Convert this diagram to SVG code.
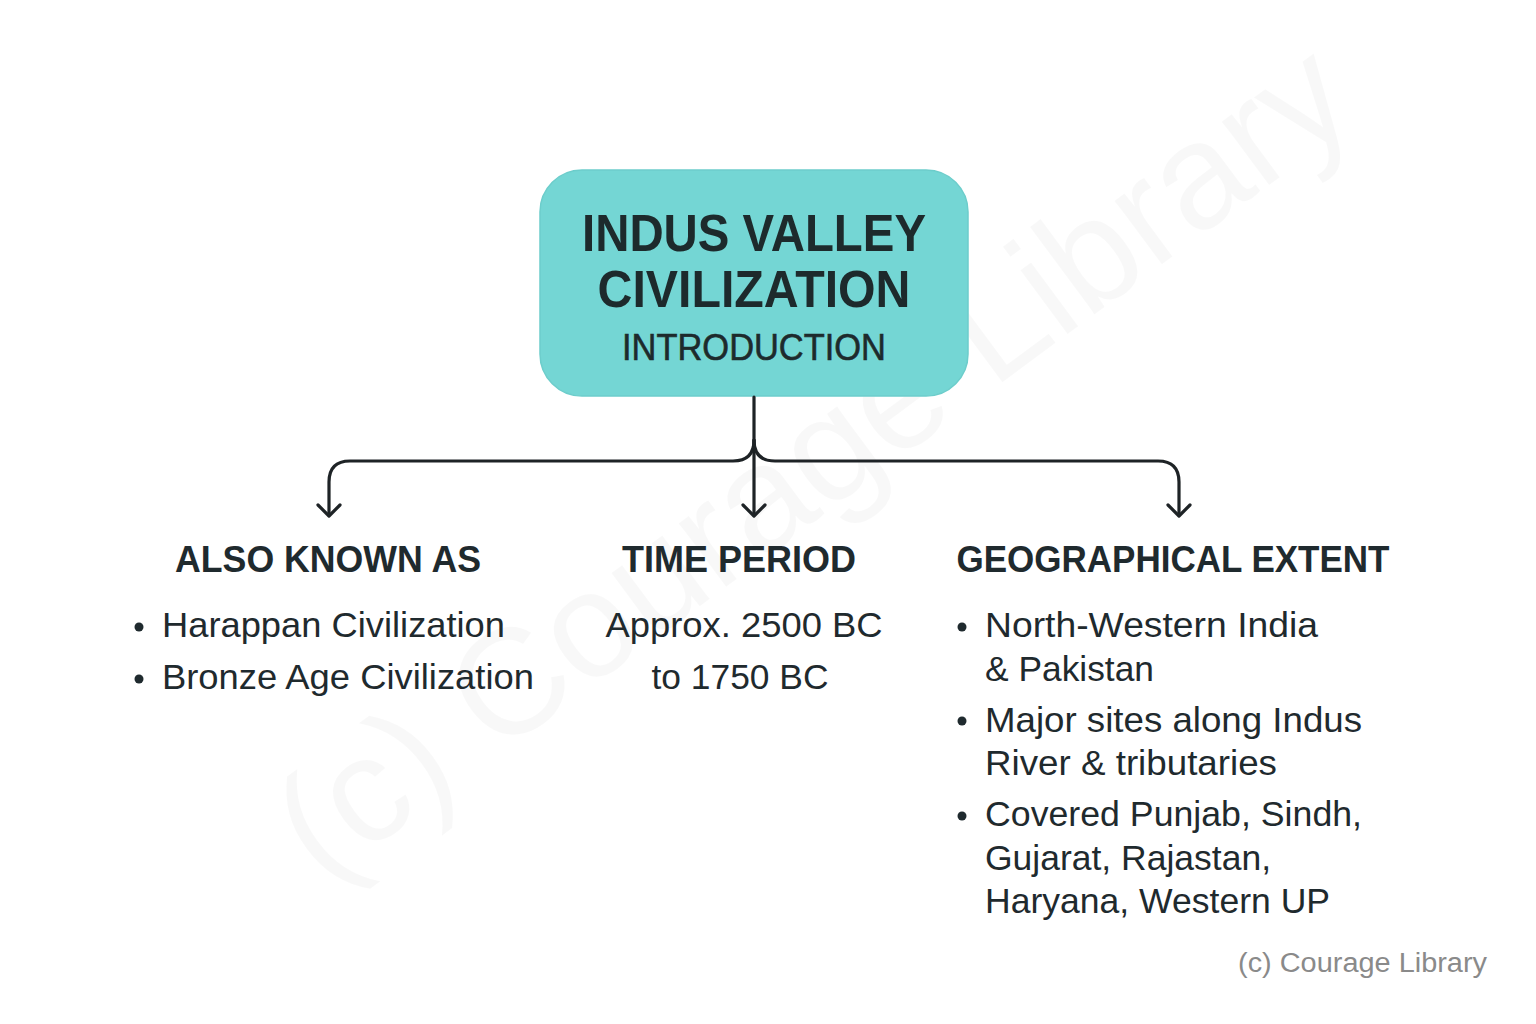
<svg xmlns="http://www.w3.org/2000/svg" width="1536" height="1024" viewBox="0 0 1536 1024">
<style>
.wm{font-family:"Liberation Sans",Arial,sans-serif;font-size:150px;fill:#000;fill-opacity:0.028}
.t1{font-family:"Liberation Sans",Arial,sans-serif;font-weight:bold;font-size:52px;fill:#1d2a2c}
.t2{font-family:"Liberation Sans",Arial,sans-serif;font-size:37px;fill:#1d2a2c;stroke:#1d2a2c;stroke-width:0.6}
.h{font-family:"Liberation Sans",Arial,sans-serif;font-weight:bold;font-size:37px;fill:#1f2a2e}
.b{font-family:"Liberation Sans",Arial,sans-serif;font-size:35px;fill:#1f2a2e}
.ft{font-family:"Liberation Sans",Arial,sans-serif;font-size:27px;fill:#8a8a8a}
.c{fill:none;stroke:#1e2326;stroke-width:3.2;stroke-linecap:round;stroke-linejoin:round}
</style>
<rect width="1536" height="1024" fill="#ffffff"/>
<text class="wm" x="815" y="510" text-anchor="middle" transform="rotate(-36.5 815 465)">(c) Courage Library</text>
<g id="root">
<rect x="540" y="170" width="428" height="226" rx="42" fill="#74d6d4" stroke="#6ccdcb" stroke-width="1.5"/>
<text class="t1" x="754" y="251" text-anchor="middle" textLength="344" lengthAdjust="spacingAndGlyphs">INDUS VALLEY</text>
<text class="t1" x="754" y="307" text-anchor="middle" textLength="313" lengthAdjust="spacingAndGlyphs">CIVILIZATION</text>
<text class="t2" x="754" y="360" text-anchor="middle" textLength="264" lengthAdjust="spacingAndGlyphs">INTRODUCTION</text>
</g>
<g id="connectors">
<path class="c" d="M754 397 V515"/>
<path class="c" d="M754 440 Q754 461 733 461 H350 Q329 461 329 482 V515"/>
<path class="c" d="M754 440 Q754 461 775 461 H1158 Q1179 461 1179 482 V515"/>
<path class="c" d="M318 505 L329 516 L340 505"/>
<path class="c" d="M743 505 L754 516 L765 505"/>
<path class="c" d="M1168 505 L1179 516 L1190 505"/>
</g>
<g id="also-known-as">
<text class="h" x="328" y="572" text-anchor="middle" textLength="306" lengthAdjust="spacingAndGlyphs">ALSO KNOWN AS</text>
<circle cx="139" cy="627" r="4.5" fill="#1f2a2e"/>
<text class="b" x="162" y="637" textLength="343" lengthAdjust="spacingAndGlyphs">Harappan Civilization</text>
<circle cx="139" cy="679" r="4.5" fill="#1f2a2e"/>
<text class="b" x="162" y="689" textLength="372" lengthAdjust="spacingAndGlyphs">Bronze Age Civilization</text>
</g>
<g id="time-period">
<text class="h" x="739" y="572" text-anchor="middle" textLength="234" lengthAdjust="spacingAndGlyphs">TIME PERIOD</text>
<text class="b" x="744" y="637" text-anchor="middle" textLength="277" lengthAdjust="spacingAndGlyphs">Approx. 2500 BC</text>
<text class="b" x="740" y="689" text-anchor="middle" textLength="177" lengthAdjust="spacingAndGlyphs">to 1750 BC</text>
</g>
<g id="geographical-extent">
<text class="h" x="1173" y="572" text-anchor="middle" textLength="433" lengthAdjust="spacingAndGlyphs">GEOGRAPHICAL EXTENT</text>
<circle cx="962" cy="627" r="4.5" fill="#1f2a2e"/>
<text class="b" x="985" y="637" textLength="333" lengthAdjust="spacingAndGlyphs">North-Western India</text>
<text class="b" x="985" y="681" textLength="169" lengthAdjust="spacingAndGlyphs">&amp; Pakistan</text>
<circle cx="962" cy="721" r="4.5" fill="#1f2a2e"/>
<text class="b" x="985" y="732" textLength="377" lengthAdjust="spacingAndGlyphs">Major sites along Indus</text>
<text class="b" x="985" y="775" textLength="292" lengthAdjust="spacingAndGlyphs">River &amp; tributaries</text>
<circle cx="962" cy="816" r="4.5" fill="#1f2a2e"/>
<text class="b" x="985" y="826" textLength="377" lengthAdjust="spacingAndGlyphs">Covered Punjab, Sindh,</text>
<text class="b" x="985" y="870" textLength="286" lengthAdjust="spacingAndGlyphs">Gujarat, Rajastan,</text>
<text class="b" x="985" y="913" textLength="345" lengthAdjust="spacingAndGlyphs">Haryana, Western UP</text>
</g>
<text class="ft" x="1487" y="972" text-anchor="end" textLength="249" lengthAdjust="spacingAndGlyphs">(c) Courage Library</text>
</svg>
